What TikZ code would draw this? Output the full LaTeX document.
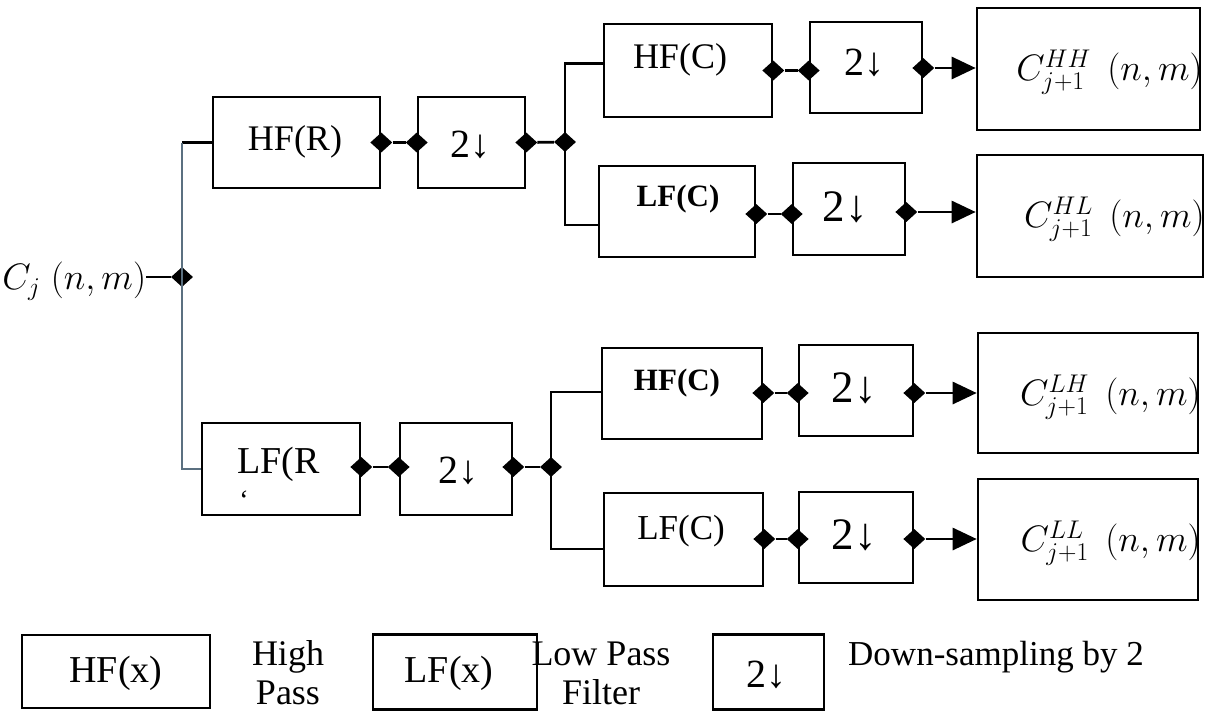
\documentclass[tikz,border=0pt]{standalone}
\usepackage{fontspec}
\setmainfont{Liberation Serif}
\usetikzlibrary{shapes.geometric,arrows.meta,calc}
\definecolor{slate}{HTML}{5B7080}
\begin{document}
\begin{tikzpicture}[x=1pt,y=-1pt,
  box/.style={draw=black,line width=2.6pt,rectangle,inner sep=0pt},
  dia/.style={diamond,fill=black,draw=none,inner sep=0pt,minimum width=22pt,minimum height=20pt},
  wire/.style={line width=2.8pt,draw=black},
  gwire/.style={line width=2.8pt,draw=slate},
  arr/.style={line width=2.8pt,draw=black,-{Triangle[length=24pt,width=22pt]}},
  lbl/.style={font=\fontsize{36}{40}\selectfont,inner sep=0pt},
  blbl/.style={font=\fontsize{31}{34}\selectfont\bfseries,inner sep=0pt},
  dsa/.style={font=\fontsize{40}{44}\selectfont,inner sep=0pt},
  dsb/.style={font=\fontsize{45}{48}\selectfont,inner sep=0pt},
  mth/.style={font=\fontsize{24}{28}\selectfont,inner sep=0pt,scale=1.48},
  leg/.style={font=\fontsize{36}{39}\selectfont,inner sep=0pt,align=center},
]
\useasboundingbox[fill=white] (0,0) rectangle (1207,713);

% ---------- input ----------
\node[mth,anchor=west] (cj) at (2,281) {$C_j\;(n,m)$};
\node[dia] (j0) at (182,277) {};

% ---------- upper branch (rows) ----------
\node[box,minimum width=167pt,minimum height=91pt] (hfr) at (296.5,142.5) {};
\node[lbl] (thfr) at (295,142) {HF(R)};
\node[box,minimum width=107pt,minimum height=91pt] (ds1) at (471.5,142.5) {};
\node[dsa] (tds1) at (470,145) {2↓};
\node[dia] (d1) at (hfr.east) {};
\node[dia] (d2) at (ds1.west) {};
\node[dia] (d3) at (ds1.east) {};
\node[dia] (j1) at (565,142) {};

\node[box,minimum width=168pt,minimum height=93pt] (hfc1) at (688,70.5) {};
\node[lbl] (thfc1) at (680,60) {HF(C)};
\node[box,minimum width=112pt,minimum height=91pt] (ds2) at (866,67.5) {};
\node[dsa] (tds2) at (864,63) {2↓};
\node[box,minimum width=223pt,minimum height=122pt] (hh) at (1088.5,69) {};
\node[mth,anchor=east] (thh) at (1203,72) {$C^{HH}_{j+1}\;\,(n,m)$};
\node[dia] (d4) at (hfc1.east) {};
\node[dia] (d5) at (ds2.west |- d4) {};
\node[dia] (d6) at (ds2.east |- 0,68) {};

\node[box,minimum width=156pt,minimum height=91pt] (lfc1) at (677,211.5) {};
\node[blbl] (tlfc1) at (678,199) {LF(C)};
\node[box,minimum width=112pt,minimum height=92pt] (ds3) at (849,209) {};
\node[dsb] (tds3) at (845,207) {2↓};
\node[box,minimum width=226pt,minimum height=122pt] (hl) at (1090,216) {};
\node[mth,anchor=east] (thl) at (1205,219) {$C^{HL}_{j+1}\;\,(n,m)$};
\node[dia] (d7) at (lfc1.east |- 0,214) {};
\node[dia] (d8) at (ds3.west |- 0,214) {};
\node[dia] (d9) at (ds3.east |- 0,212) {};

% ---------- lower branch ----------
\node[box,minimum width=158pt,minimum height=92pt] (lfr) at (281,469) {};
\node[lbl,font=\fontsize{38}{40}\selectfont,anchor=west] (tlfr) at (237,464) {LF(R};
\node[font=\fontsize{28}{30}\selectfont,inner sep=0pt] (tlfrm) at (244,500) {`};
\node[box,minimum width=112pt,minimum height=92pt] (ds4) at (456,469) {};
\node[dsa] (tds4) at (458,471) {2↓};
\node[dia] (d10) at (lfr.east |- 0,467) {};
\node[dia] (d11) at (ds4.west |- 0,467) {};
\node[dia] (d12) at (ds4.east |- 0,467) {};
\node[dia] (j2) at (551,467) {};

\node[box,minimum width=160pt,minimum height=91pt] (hfc2) at (682,393.5) {};
\node[blbl] (thfc2) at (677,383) {HF(C)};
\node[box,minimum width=114pt,minimum height=91pt] (ds5) at (856,390.5) {};
\node[dsb] (tds5) at (854,388) {2↓};
\node[box,minimum width=220pt,minimum height=120pt] (lh) at (1088,393) {};
\node[mth,anchor=east] (tlh) at (1201,397) {$C^{LH}_{j+1}\;\,(n,m)$};
\node[dia] (d13) at (hfc2.east |- 0,393) {};
\node[dia] (d14) at (ds5.west |- 0,393) {};
\node[dia] (d15) at (ds5.east |- 0,393) {};

\node[box,minimum width=159pt,minimum height=93pt] (lfc2) at (683.5,539.5) {};
\node[lbl,font=\fontsize{35}{38}\selectfont] (tlfc2) at (681,531) {LF(C)};
\node[box,minimum width=114pt,minimum height=91pt] (ds6) at (856,537.5) {};
\node[dsb] (tds6) at (854,535) {2↓};
\node[box,minimum width=220pt,minimum height=121pt] (ll) at (1088,539.5) {};
\node[mth,anchor=east] (tll) at (1201,543) {$C^{LL}_{j+1}\;\,(n,m)$};
\node[dia] (d16) at (lfc2.east |- 0,539) {};
\node[dia] (d17) at (ds6.west |- 0,539) {};
\node[dia] (d18) at (ds6.east |- 0,539) {};

% ---------- connectors ----------
\draw[wire] (cj.east |- j0) -- (j0);
\draw[wire] (hfr.west) -- (hfr.west -| j0);
\draw[gwire] (hfr.west -| j0) -- (lfr.west -| j0) -- (lfr.west);

\draw[wire] (d1) -- (d2);
\draw[wire] (d3) -- (j1);
\draw[wire] ([yshift=7pt]hfc1.west) -- ([yshift=7pt]hfc1.west -| j1) -- ([yshift=-13.5pt]lfc1.west -| j1) -- ([yshift=-13.5pt]lfc1.west);
\draw[wire] (d4) -- (d5);
\draw[arr] (d6) -- (d6 -| hh.west);
\draw[wire] (d7) -- (d8);
\draw[arr] (d9) -- (d9 -| hl.west);

\draw[wire] (d10) -- (d11);
\draw[wire] (d12) -- (j2);
\draw[wire] ([yshift=1.5pt]hfc2.west) -- ([yshift=1.5pt]hfc2.west -| j2) -- ([yshift=-9.5pt]lfc2.west -| j2) -- ([yshift=-9.5pt]lfc2.west);
\draw[wire] (d13) -- (d14);
\draw[arr] (d15) -- (d15 -| lh.west);
\draw[wire] (d16) -- (d17);
\draw[arr] (d18) -- (d18 -| ll.west);

% ---------- legend ----------
\node[box,minimum width=188pt,minimum height=73pt] (lg1) at (116,671.5) {};
\node[lbl,font=\fontsize{38}{40}\selectfont] (tlg1) at (116,673) {HF(x)};
\node[leg] (tlg2) at (288,673) {High\\Pass};
\node[box,minimum width=164pt,minimum height=75pt] (lg3) at (455,672) {};
\node[lbl,font=\fontsize{38}{40}\selectfont] (tlg3) at (449,673) {LF(x)};
\node[leg] (tlg4) at (601,673) {Low Pass\\Filter};
\node[box,minimum width=111pt,minimum height=75pt] (lg5) at (768.5,672) {};
\node[dsa] (tlg5) at (766,675) {2↓};
\node[font=\fontsize{35}{38}\selectfont,inner sep=0pt,anchor=west] (tlg6) at (848,657) {Down-sampling by 2};
\end{tikzpicture}
\end{document}
